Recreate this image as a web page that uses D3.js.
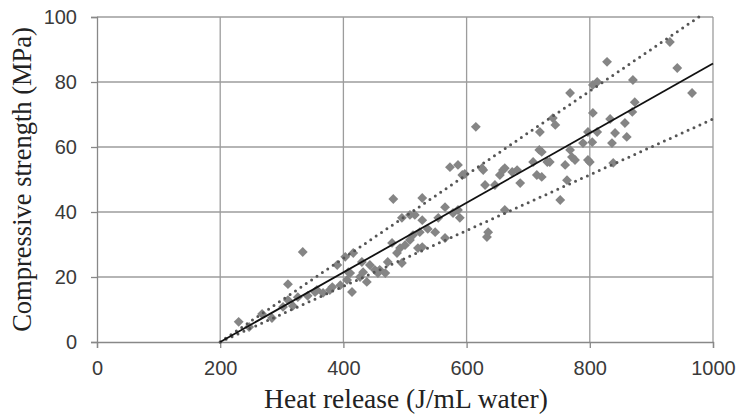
<!DOCTYPE html>
<html>
<head>
<meta charset="utf-8">
<script src="https://cdn.jsdelivr.net/npm/d3@7"></script>
<style>
  html, body { margin: 0; padding: 0; background: #fff; }
  svg { display: block; }
  .serif { font-family: "Liberation Serif", "Times New Roman", "DejaVu Serif", "Noto Serif", serif; }
</style>
</head>
<body>
<svg id="chart" width="740" height="417"></svg>
<script>
// Data
const heatRelease = [230,247,268,284,302,310,310,318,326,334,342,354,357,367,378,382,390,395,403,406,408,411,414,416,427,430,432,438,443,451,456,459,468,472,479,487,492,495,495,500,508,508,513,516,521,524,528,528,528,537,549,554,565,565,573,578,586,586,589,593,597,615,625,627,630,633,635,646,654,659,662,662,674,682,687,708,714,718,719,722,722,731,735,740,744,752,760,763,768,768,771,776,789,797,797,800,804,805,805,812,812,828,833,836,838,841,857,860,869,870,873,930,942,966,481];
const strength    = [6.2,4.6,8.6,7.4,10.8,17.8,12.9,11.1,13.8,27.7,14.2,15.4,16.0,15.1,16.0,16.9,23.7,17.5,26.2,19.1,21.5,21.2,15.4,27.4,20.0,24.6,21.5,18.5,23.7,22.2,21.2,22.2,21.2,24.6,30.5,27.4,28.9,24.3,38.2,29.8,31.4,39.1,32.9,39.1,28.9,33.8,37.5,29.2,44.3,34.8,33.8,38.2,32.0,41.5,53.8,39.7,54.5,40.6,38.2,51.4,51.7,66.2,53.5,52.9,48.3,32.3,33.8,48.3,51.4,52.9,53.5,40.6,52.3,52.9,48.9,55.4,51.4,59.1,64.6,58.5,50.8,55.4,55.4,68.9,66.8,43.7,54.5,49.8,59.1,76.6,56.9,56.0,61.2,64.6,56.0,55.4,61.5,70.5,79.1,80.0,64.6,86.2,68.6,61.2,55.1,64.3,67.4,63.1,70.8,80.6,73.8,92.3,84.3,76.6,44.0];

const trendLine = [[200, 0], [1000, 85.7]];
const upperLine = [[200, 0], [977, 100]];
const lowerLine = [[200, 0], [1000, 68.6]];

const xTicks = [0, 200, 400, 600, 800, 1000];
const yTicks = [0, 20, 40, 60, 80, 100];
const xTitle = "Heat release (J/mL water)";
const yTitle = "Compressive strength (MPa)";

const svg = d3.select("#chart");
const W = 740, H = 417;
const m = {left: 97, right: 27, top: 17, bottom: 75};
const x = d3.scaleLinear().domain([0, 1000]).range([m.left, W - m.right]);
const y = d3.scaleLinear().domain([0, 100]).range([H - m.bottom, m.top]);

const gridColor = "#9c9c9c";
// grid
svg.append("g").selectAll("line").data(yTicks.filter(d => d > 0)).join("line")
  .attr("x1", x(0)).attr("x2", x(1000))
  .attr("y1", d => y(d)).attr("y2", d => y(d))
  .attr("stroke", gridColor).attr("stroke-width", 1.3);
svg.append("g").selectAll("line").data(xTicks.filter(d => d > 0)).join("line")
  .attr("y1", y(0)).attr("y2", y(100))
  .attr("x1", d => x(d)).attr("x2", d => x(d))
  .attr("stroke", gridColor).attr("stroke-width", 1.3);

// axes
const fmt = d3.format("d");
const xAxis = svg.append("g").attr("transform", `translate(0,${y(0)})`)
  .call(d3.axisBottom(x).tickValues(xTicks).tickFormat(fmt).tickSize(6).tickPadding(13));
const yAxis = svg.append("g").attr("transform", `translate(${x(0)},0)`)
  .call(d3.axisLeft(y).tickValues(yTicks).tickFormat(fmt).tickSize(6).tickPadding(14));
[xAxis, yAxis].forEach(a => {
  a.select(".domain").attr("stroke", "#888").attr("stroke-width", 1.3);
  a.selectAll(".tick line").attr("stroke", "#888").attr("stroke-width", 1.3);
  a.selectAll(".tick text").attr("fill", "#3a3a3a")
    .style("font-family", "'Liberation Sans', Arial, sans-serif").style("font-size", "20px");
});

// points (diamonds)
const sym = d3.symbol().type(d3.symbolDiamond2).size(62);
svg.append("g").selectAll("path").data(heatRelease.map((v, i) => [v, strength[i]])).join("path")
  .attr("d", sym)
  .attr("transform", d => `translate(${x(d[0])},${y(d[1])})`)
  .attr("fill", "#858585");

// lines
const line = d3.line().x(d => x(d[0])).y(d => y(d[1]));
[upperLine, lowerLine].forEach(l => {
  svg.append("path").datum(l).attr("d", line)
    .attr("fill", "none").attr("stroke", "#555").attr("stroke-width", 3)
    .attr("stroke-linecap", "round").attr("stroke-dasharray", "0 6.5");
});
svg.append("path").datum(trendLine).attr("d", line)
  .attr("fill", "none").attr("stroke", "#111").attr("stroke-width", 1.8);

// titles
svg.append("text").attr("class", "serif").attr("x", (x(0) + x(1000)) / 2 + 1).attr("y", 408)
  .attr("text-anchor", "middle").attr("fill", "#222")
  .style("font-size", "27.5px")
  .text(xTitle);
svg.append("text").attr("class", "serif")
  .attr("transform", `translate(31,${(y(0) + y(100)) / 2}) rotate(-90)`)
  .attr("text-anchor", "middle").attr("fill", "#222")
  .style("font-size", "26.5px")
  .text(yTitle);
</script>
</body>
</html>
